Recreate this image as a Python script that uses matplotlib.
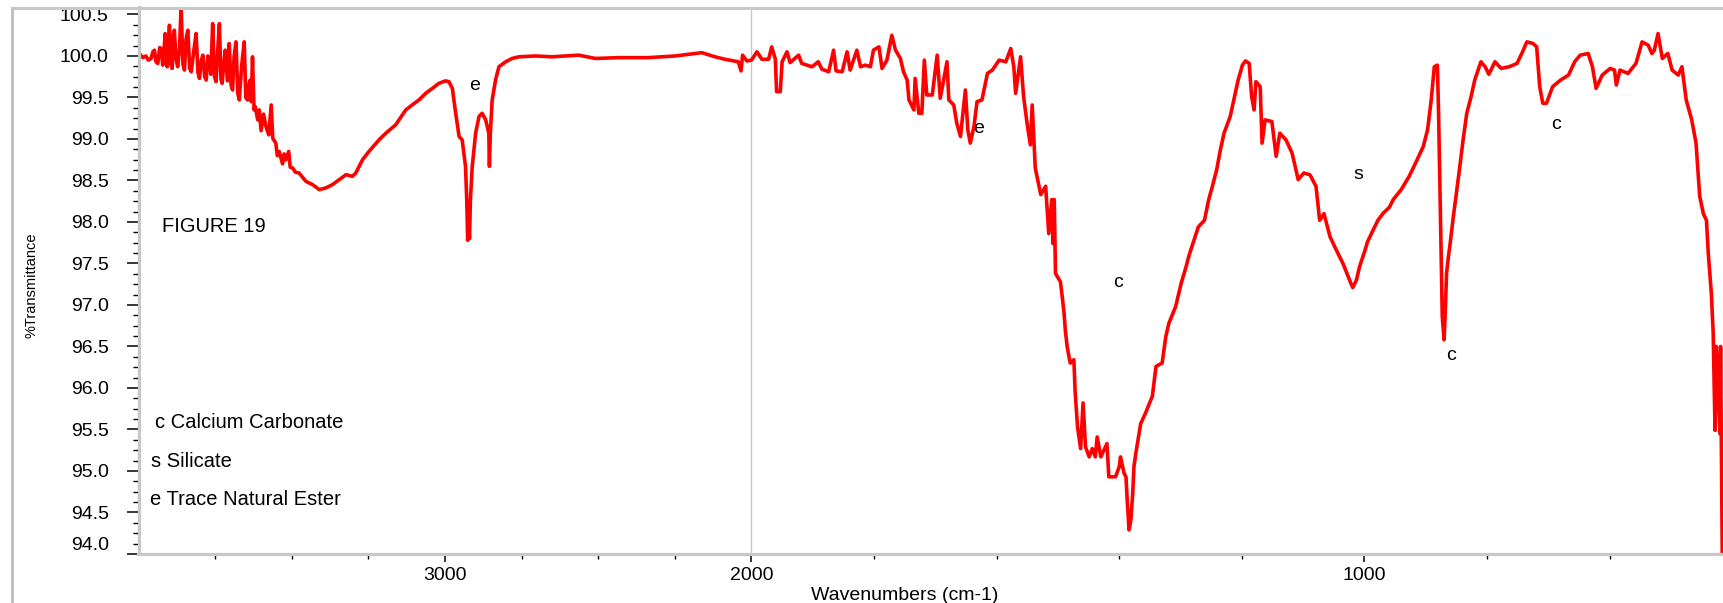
import numpy as np
import matplotlib
matplotlib.use("Agg")
import matplotlib.pyplot as plt
from matplotlib.lines import Line2D
from matplotlib.ticker import FixedLocator, FormatStrFormatter, NullFormatter

plt.rcParams["font.family"] = ["Liberation Sans", "DejaVu Sans"]

# spectrum, split in regions (cm-1, %T)
wn_high = [3997, 3986, 3976, 3968, 3959, 3953, 3948, 3943, 3937, 3931, 3926, 3921, 3917, 3913,
           3909, 3906, 3902, 3899, 3894, 3890, 3886, 3883, 3877, 3872, 3866, 3861, 3855, 3850,
           3845, 3839, 3833, 3828, 3820, 3812, 3806, 3801, 3795, 3790, 3784, 3779, 3774, 3769,
           3764, 3758, 3752, 3747, 3741, 3736, 3731, 3727, 3722, 3717, 3710, 3704, 3698, 3693,
           3688, 3682, 3676, 3671, 3663, 3655, 3650, 3644, 3640, 3636, 3632, 3628, 3623, 3619,
           3611, 3606, 3600, 3592, 3584, 3575, 3567, 3562, 3552, 3547, 3541, 3530, 3525, 3519,
           3510, 3505, 3497, 3488, 3476, 3454, 3432, 3410,
           3389, 3367, 3345, 3323, 3302, 3291, 3269, 3248, 3215, 3193, 3161, 3128, 3107, 3085,
           3063, 3041, 3020, 2998, 2987, 2976, 2965, 2954, 2944, 2933, 2929, 2926, 2923, 2920,
           2917, 2911, 2900, 2889, 2879, 2867, 2857, 2855, 2852, 2846, 2835, 2824, 2802, 2781,
           2759, 2705, 2650, 2564, 2509, 2433]
t_high = [100.03, 99.98, 100.00, 99.95, 99.97, 100.05, 100.07, 99.93, 99.91, 100.10, 100.09,
          99.89, 100.05, 100.27, 99.90, 99.87, 100.20, 100.37, 99.90, 99.85, 100.25, 100.31,
          99.95, 99.87, 100.10, 100.60, 99.90, 99.83, 100.20, 100.31, 99.85, 99.81, 100.05,
          100.27, 99.80, 99.73, 99.95, 100.01, 99.75, 99.71, 100.00, 99.95, 99.78, 100.39,
          99.75, 99.69, 100.10, 100.39, 99.72, 99.67, 99.90, 100.07, 99.70, 100.15, 99.65,
          99.59, 100.00, 100.17, 99.55, 99.47, 99.90, 100.17, 99.50, 99.47, 99.65, 99.71,
          99.45, 99.99, 99.35, 99.39, 99.23, 99.35, 99.10, 99.30, 99.15, 99.05, 99.41, 99.01,
          98.95, 98.80, 98.85, 98.70, 98.82, 98.75, 98.85, 98.66, 98.65, 98.60, 98.59, 98.49,
          98.45, 98.39,
          98.41, 98.45, 98.51, 98.57, 98.55, 98.59, 98.75, 98.85, 98.99, 99.07, 99.17, 99.35,
          99.41, 99.47, 99.55, 99.61, 99.67, 99.70, 99.69, 99.61, 99.31, 99.03, 98.99, 98.67,
          98.27, 97.78, 98.00, 97.80, 98.27, 98.67, 99.07, 99.27, 99.31, 99.23, 99.07, 98.67,
          99.07, 99.47, 99.71, 99.87, 99.93, 99.97, 99.99, 100.00, 99.99, 100.01, 99.97, 99.98]

wn_mid = [2336, 2249, 2162, 2119, 2086, 2043, 2034, 2029, 2015, 2000, 1991, 1983, 1972, 1967,
          1961, 1959, 1953, 1950, 1942, 1937, 1923, 1918, 1901, 1891, 1885, 1874, 1866, 1862,
          1852, 1844, 1839, 1828, 1822, 1814, 1806, 1801, 1792, 1787, 1779, 1771, 1765, 1757,
          1752, 1746, 1743, 1735, 1733, 1727, 1722, 1718, 1714, 1705, 1697, 1692, 1681, 1678,
          1670, 1665, 1659, 1651, 1647, 1643, 1637, 1632, 1624, 1615, 1607, 1596, 1585, 1577,
          1572, 1569, 1561, 1556, 1550, 1545, 1542, 1537, 1528, 1520, 1515, 1510, 1508, 1506]
t_mid = [99.98, 100.00, 100.04, 99.99, 99.96, 99.93, 99.82, 100.01, 99.94, 99.95, 100.05, 99.96,
         99.96, 100.11, 99.96, 99.57, 99.57, 99.93, 100.05, 99.92, 100.01, 99.91, 99.87, 99.93,
         99.84, 99.81, 100.07, 99.82, 99.81, 100.05, 99.83, 100.07, 99.87, 99.89, 99.87, 100.07,
         100.11, 99.85, 99.95, 100.25, 100.07, 99.97, 99.81, 99.71, 99.47, 99.35, 99.73, 99.31,
         99.31, 99.95, 99.53, 99.53, 100.01, 99.49, 99.93, 99.47, 99.41, 99.19, 99.03, 99.59,
         99.11, 98.95, 99.15, 99.45, 99.47, 99.79, 99.83, 99.95, 99.93, 100.09, 99.87, 99.55,
         99.99, 99.51, 99.17, 98.93, 99.41, 98.65, 98.33, 98.43, 97.86, 98.27, 97.74, 98.27]

wn_carb = [1504, 1496, 1493, 1490, 1488, 1485, 1480, 1474, 1472, 1468, 1463, 1459, 1455, 1449,
           1444, 1439, 1436, 1430, 1425, 1420, 1417, 1406, 1400, 1398, 1392, 1389, 1387, 1384,
           1381, 1378, 1376, 1373, 1365, 1357, 1346, 1340, 1330, 1324, 1319, 1308, 1299, 1291,
           1286]
t_carb = [97.38, 97.28, 97.10, 96.90, 96.70, 96.50, 96.30, 96.34, 95.96, 95.53, 95.27, 95.82,
          95.29, 95.17, 95.27, 95.17, 95.41, 95.17, 95.25, 95.33, 94.93, 94.93, 95.05, 95.17,
          94.97, 94.93, 94.65, 94.29, 94.41, 94.73, 95.05, 95.21, 95.57, 95.70, 95.90, 96.26,
          96.30, 96.62, 96.78, 96.98, 97.26, 97.46, 97.60]

wn_low = [1271, 1261, 1254, 1248, 1241, 1235, 1229, 1219, 1212, 1206, 1199, 1194, 1188, 1184,
          1180, 1177, 1170, 1167, 1162, 1151, 1144, 1138, 1128, 1118, 1108, 1099, 1089, 1079,
          1073, 1066, 1056, 1047, 1035, 1022, 1019, 1013, 1008, 999, 995, 986, 978, 970, 959,
          953, 940, 927, 914, 904, 897, 891, 886, 881, 879, 876, 873, 870, 868, 866, 863, 860,
          855, 845, 839, 833, 826, 820, 810, 803, 797, 787, 777, 764, 751, 742, 735, 725, 719,
          714, 709, 703, 693, 680, 667, 657, 648, 635, 628, 622, 612, 599, 592, 589, 583, 570,
          557, 547, 537, 531, 527, 521, 514, 505, 498, 488, 482, 475, 466, 459, 453, 447, 442,
          439, 434, 431, 428, 426, 420, 419, 417, 416]
t_low = [97.94, 98.02, 98.27, 98.43, 98.63, 98.87, 99.07, 99.27, 99.51, 99.71, 99.89, 99.94,
         99.91, 99.51, 99.35, 99.69, 99.63, 98.95, 99.23, 99.21, 98.79, 99.07, 98.99, 98.83,
         98.51, 98.59, 98.57, 98.43, 98.02, 98.10, 97.82, 97.68, 97.50, 97.26, 97.21, 97.30,
         97.46, 97.66, 97.76, 97.90, 98.02, 98.10, 98.18, 98.27, 98.39, 98.55, 98.75, 98.91,
         99.11, 99.47, 99.87, 99.89, 99.31, 98.10, 96.86, 96.58, 96.94, 97.38, 97.58, 97.75,
         98.06, 98.63, 98.99, 99.31, 99.51, 99.71, 99.93, 99.87, 99.78, 99.93, 99.85, 99.87,
         99.91, 100.05, 100.17, 100.15, 100.11, 99.63, 99.43, 99.43, 99.63, 99.71, 99.77, 99.93,
         100.01, 100.03, 99.87, 99.61, 99.77, 99.85, 99.83, 99.65, 99.83, 99.79, 99.91, 100.17,
         100.13, 100.03, 100.07, 100.27, 99.97, 100.03, 99.83, 99.77, 99.87, 99.47, 99.23, 98.95,
         98.31, 98.10, 98.02, 97.62, 97.14, 96.66, 95.49, 96.50, 95.45, 96.50, 94.65, 93.80]

# band letters (wavenumber, %T, letter)
peak_labels = [(2902, 99.64, "e"), (1629, 99.13, "e"), (1402, 97.27, "c"),
               (1010, 98.57, "s"), (858, 96.39, "c"), (688, 99.18, "c")]
key_lines = ["c Calcium Carbonate", "s Silicate", "e Trace Natural Ester"]
key_pos = [(3945, 95.58), (3958, 95.12), (3961, 94.66)]

wavenumber = np.concatenate([wn_high, wn_mid, wn_carb, wn_low])
transmittance = np.concatenate([t_high, t_mid, t_carb, t_low])


# the instrument plot doubles the scale below 2000 cm-1
def fwd(x):
    x = np.asarray(x, dtype=float)
    return np.where(x >= 2000, x, 2 * x - 2000)


def inv(u):
    u = np.asarray(u, dtype=float)
    return np.where(u >= 2000, u, (u + 2000) / 2)


W, H = 1723, 603
fig = plt.figure(figsize=(W / 100, H / 100), dpi=100)
ax = fig.add_axes([138.5 / W, 49 / H, (W - 138.5) / W, 546.5 / H])

ax.set_xscale("function", functions=(fwd, inv))
ax.axvline(2000, color="#c8c8c8", lw=1.0, zorder=1)
ax.plot(wavenumber, transmittance, color="#ff0000", lw=2.6, zorder=2)

ax.set_xlim(4000, 415)
ax.set_ylim(94.0, 100.584)

ax.xaxis.set_major_locator(FixedLocator([3000, 2000, 1000]))
ax.xaxis.set_minor_locator(FixedLocator([3750, 3500, 3250, 2750, 2500, 2250,
                                         1800, 1600, 1400, 1200, 800, 600]))
ax.xaxis.set_major_formatter(FormatStrFormatter("%d"))
ax.xaxis.set_minor_formatter(NullFormatter())
ax.yaxis.set_major_locator(FixedLocator(np.arange(94.0, 100.51, 0.5)))
ax.yaxis.set_minor_locator(FixedLocator(np.arange(94.0, 100.6, 0.125)))
ax.yaxis.set_major_formatter(FormatStrFormatter("%.1f"))

for side in ["top", "right"]:
    ax.spines[side].set_visible(False)
for side in ["left", "bottom"]:
    ax.spines[side].set_color("#c8c8c8")
    ax.spines[side].set_linewidth(2.3)

ax.tick_params(axis="x", which="major", length=6, width=1.1, color="black",
               labelsize=14, pad=3.0)
ax.tick_params(axis="x", which="minor", length=3.6, width=1.0, color="black")
ax.tick_params(axis="y", which="major", length=8.4, width=1.1, color="black",
               labelsize=14, pad=13.0)
ax.tick_params(axis="y", which="minor", length=4.3, width=1.0, color="black")

ax.set_xlabel("Wavenumbers (cm-1)", fontsize=14, va="center")
ax.xaxis.set_label_coords((905 - 138.5) / (W - 138.5), (554 - 595) / 546.5)
ax.set_ylabel("%Transmittance", fontsize=10.5, va="center")
ax.yaxis.set_label_coords((32 - 138.5) / (W - 138.5), (554 - 285) / 546.5)

for x, y, s in peak_labels:
    ax.text(x, y, s, fontsize=14, ha="center", va="center")
ax.text(3922, 97.94, "FIGURE 19", fontsize=14.5, ha="left", va="center")
for (x, y), s in zip(key_pos, key_lines):
    ax.text(x, y, s, fontsize=14.5, ha="left", va="center")

# window frame lines of the screenshot
top_y = 1 - 7.5 / H
fig.add_artist(Line2D([12 / W, 12 / W], [0, top_y], transform=fig.transFigure,
                      color="#c0c0c0", lw=2.2))
fig.add_artist(Line2D([12 / W, 1], [top_y, top_y], transform=fig.transFigure,
                      color="#c8c8c8", lw=2.2))

fig.canvas.draw()
ax.yaxis.get_major_ticks()[0].label1.set_verticalalignment("bottom")

fig.savefig("out.png", dpi=100)
